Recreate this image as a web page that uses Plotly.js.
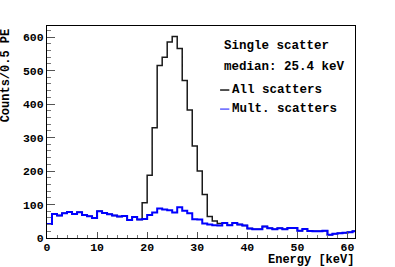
<!DOCTYPE html>
<html>
<head>
<meta charset="utf-8">
<script src="https://cdn.plot.ly/plotly-3.0.1.min.js"></script>
<style>
  html, body { margin: 0; padding: 0; background: #fff; }
  #plot { width: 395px; height: 267px; }
</style>
</head>
<body>
<div id="plot"></div>
<script>
// histogram bins, 1 keV wide starting at 0
const binWidth = 1;

// counts per bin
const allScatters = [
  42, 72, 67, 74, 78, 72, 77, 69, 65, 60,
  80, 75, 71, 67, 64, 66, 54, 63, 55, 105,
  187, 329, 515, 540, 585, 602, 566, 470, 382, 275,
  200, 130, 64, 51, 43, 45, 38, 45, 40, 37,
  28, 26, 26, 34, 29, 26, 29, 26, 30, 30,
  22, 27, 21, 20, 20, 22, 10, 13, 14, 16,
  17, 20
];
const multScatters = [
  42, 72, 67, 74, 78, 72, 77, 69, 65, 60,
  80, 75, 71, 67, 64, 66, 54, 63, 55, 57,
  69, 76, 88, 85, 83, 76, 92, 81, 74, 56,
  55, 43, 40, 38, 37, 45, 38, 45, 40, 37,
  28, 26, 26, 34, 29, 26, 29, 26, 30, 30,
  22, 27, 21, 20, 20, 22, 10, 13, 14, 16,
  17, 20
];

const xTicks = [0, 10, 20, 30, 40, 50, 60];
const yTicks = [0, 100, 200, 300, 400, 500, 600];

const binEdges = allScatters.map((_, i) => i * binWidth);
binEdges.push(allScatters.length * binWidth);

// step line: repeat the last value so the last bin gets its top
function steps(vals) {
  return vals.concat([vals[vals.length - 1]]);
}

const mono = { family: 'Liberation Mono, DejaVu Sans Mono, monospace', size: 12, color: '#000', weight: 'bold' };
const tickFont = Object.assign({}, mono, { size: 11.5 });
const boxFont = Object.assign({}, mono, { size: 12.5 });

const traces = [
  {
    x: binEdges, y: steps(allScatters),
    type: 'scatter', mode: 'lines',
    line: { shape: 'hv', color: '#1a1a1a', width: 1.5 },
    name: 'All scatters', hoverinfo: 'skip'
  },
  {
    x: binEdges, y: steps(multScatters),
    type: 'scatter', mode: 'lines',
    line: { shape: 'hv', color: '#0000ff', width: 2 },
    name: 'Mult. scatters', hoverinfo: 'skip'
  }
];

const layout = {
  width: 395, height: 267,
  margin: { l: 47, r: 40, t: 26, b: 29 },
  paper_bgcolor: '#fff', plot_bgcolor: '#fff',
  showlegend: false,
  xaxis: {
    range: [0, 61.5],
    tickvals: xTicks,
    ticks: 'inside', ticklen: 6, tickcolor: '#555', tickwidth: 1,
    minor: { dtick: 2, ticks: 'inside', ticklen: 3, tickcolor: '#777' },
    showline: true, mirror: true, linecolor: '#000', linewidth: 1,
    showgrid: false, zeroline: false,
    ticklabelstandoff: -2,
    tickfont: tickFont
  },
  yaxis: {
    range: [0, 633],
    tickvals: yTicks,
    ticks: 'inside', ticklen: 8, tickcolor: '#555', tickwidth: 1,
    minor: { dtick: 20, ticks: 'inside', ticklen: 4, tickcolor: '#777' },
    showline: true, mirror: true, linecolor: '#000', linewidth: 1,
    showgrid: false, zeroline: false,
    tickfont: tickFont
  },
  annotations: [
    { text: 'Counts/0.5 PE', xref: 'paper', yref: 'paper', x: -0.132, y: 1.0,
      xanchor: 'center', yanchor: 'top', textangle: -90, showarrow: false, font: mono },
    { text: 'Energy [keV]', xref: 'paper', yref: 'paper', x: 1.0, y: -0.142,
      xanchor: 'right', yanchor: 'bottom', borderpad: 0, showarrow: false, font: mono },
    { text: 'Single scatter', xref: 'paper', yref: 'paper', x: 0.568, y: 0.906,
      xanchor: 'left', yanchor: 'middle', showarrow: false, font: boxFont },
    { text: 'median: 25.4 keV', xref: 'paper', yref: 'paper', x: 0.568, y: 0.807,
      xanchor: 'left', yanchor: 'middle', showarrow: false, font: boxFont },
    { text: 'All scatters', xref: 'paper', yref: 'paper', x: 0.594, y: 0.698,
      xanchor: 'left', yanchor: 'middle', showarrow: false, font: boxFont },
    { text: 'Mult. scatters', xref: 'paper', yref: 'paper', x: 0.594, y: 0.608,
      xanchor: 'left', yanchor: 'middle', showarrow: false, font: boxFont }
  ],
  shapes: [
    { type: 'line', xref: 'paper', yref: 'paper', x0: 0.562, x1: 0.592, y0: 0.698, y1: 0.698,
      line: { color: '#1a1a1a', width: 1.5 } },
    { type: 'line', xref: 'paper', yref: 'paper', x0: 0.562, x1: 0.592, y0: 0.608, y1: 0.608,
      line: { color: '#6060ff', width: 1.5 } }
  ]
};

Plotly.newPlot('plot', traces, layout, { displayModeBar: false, staticPlot: true });
</script>
</body>
</html>
